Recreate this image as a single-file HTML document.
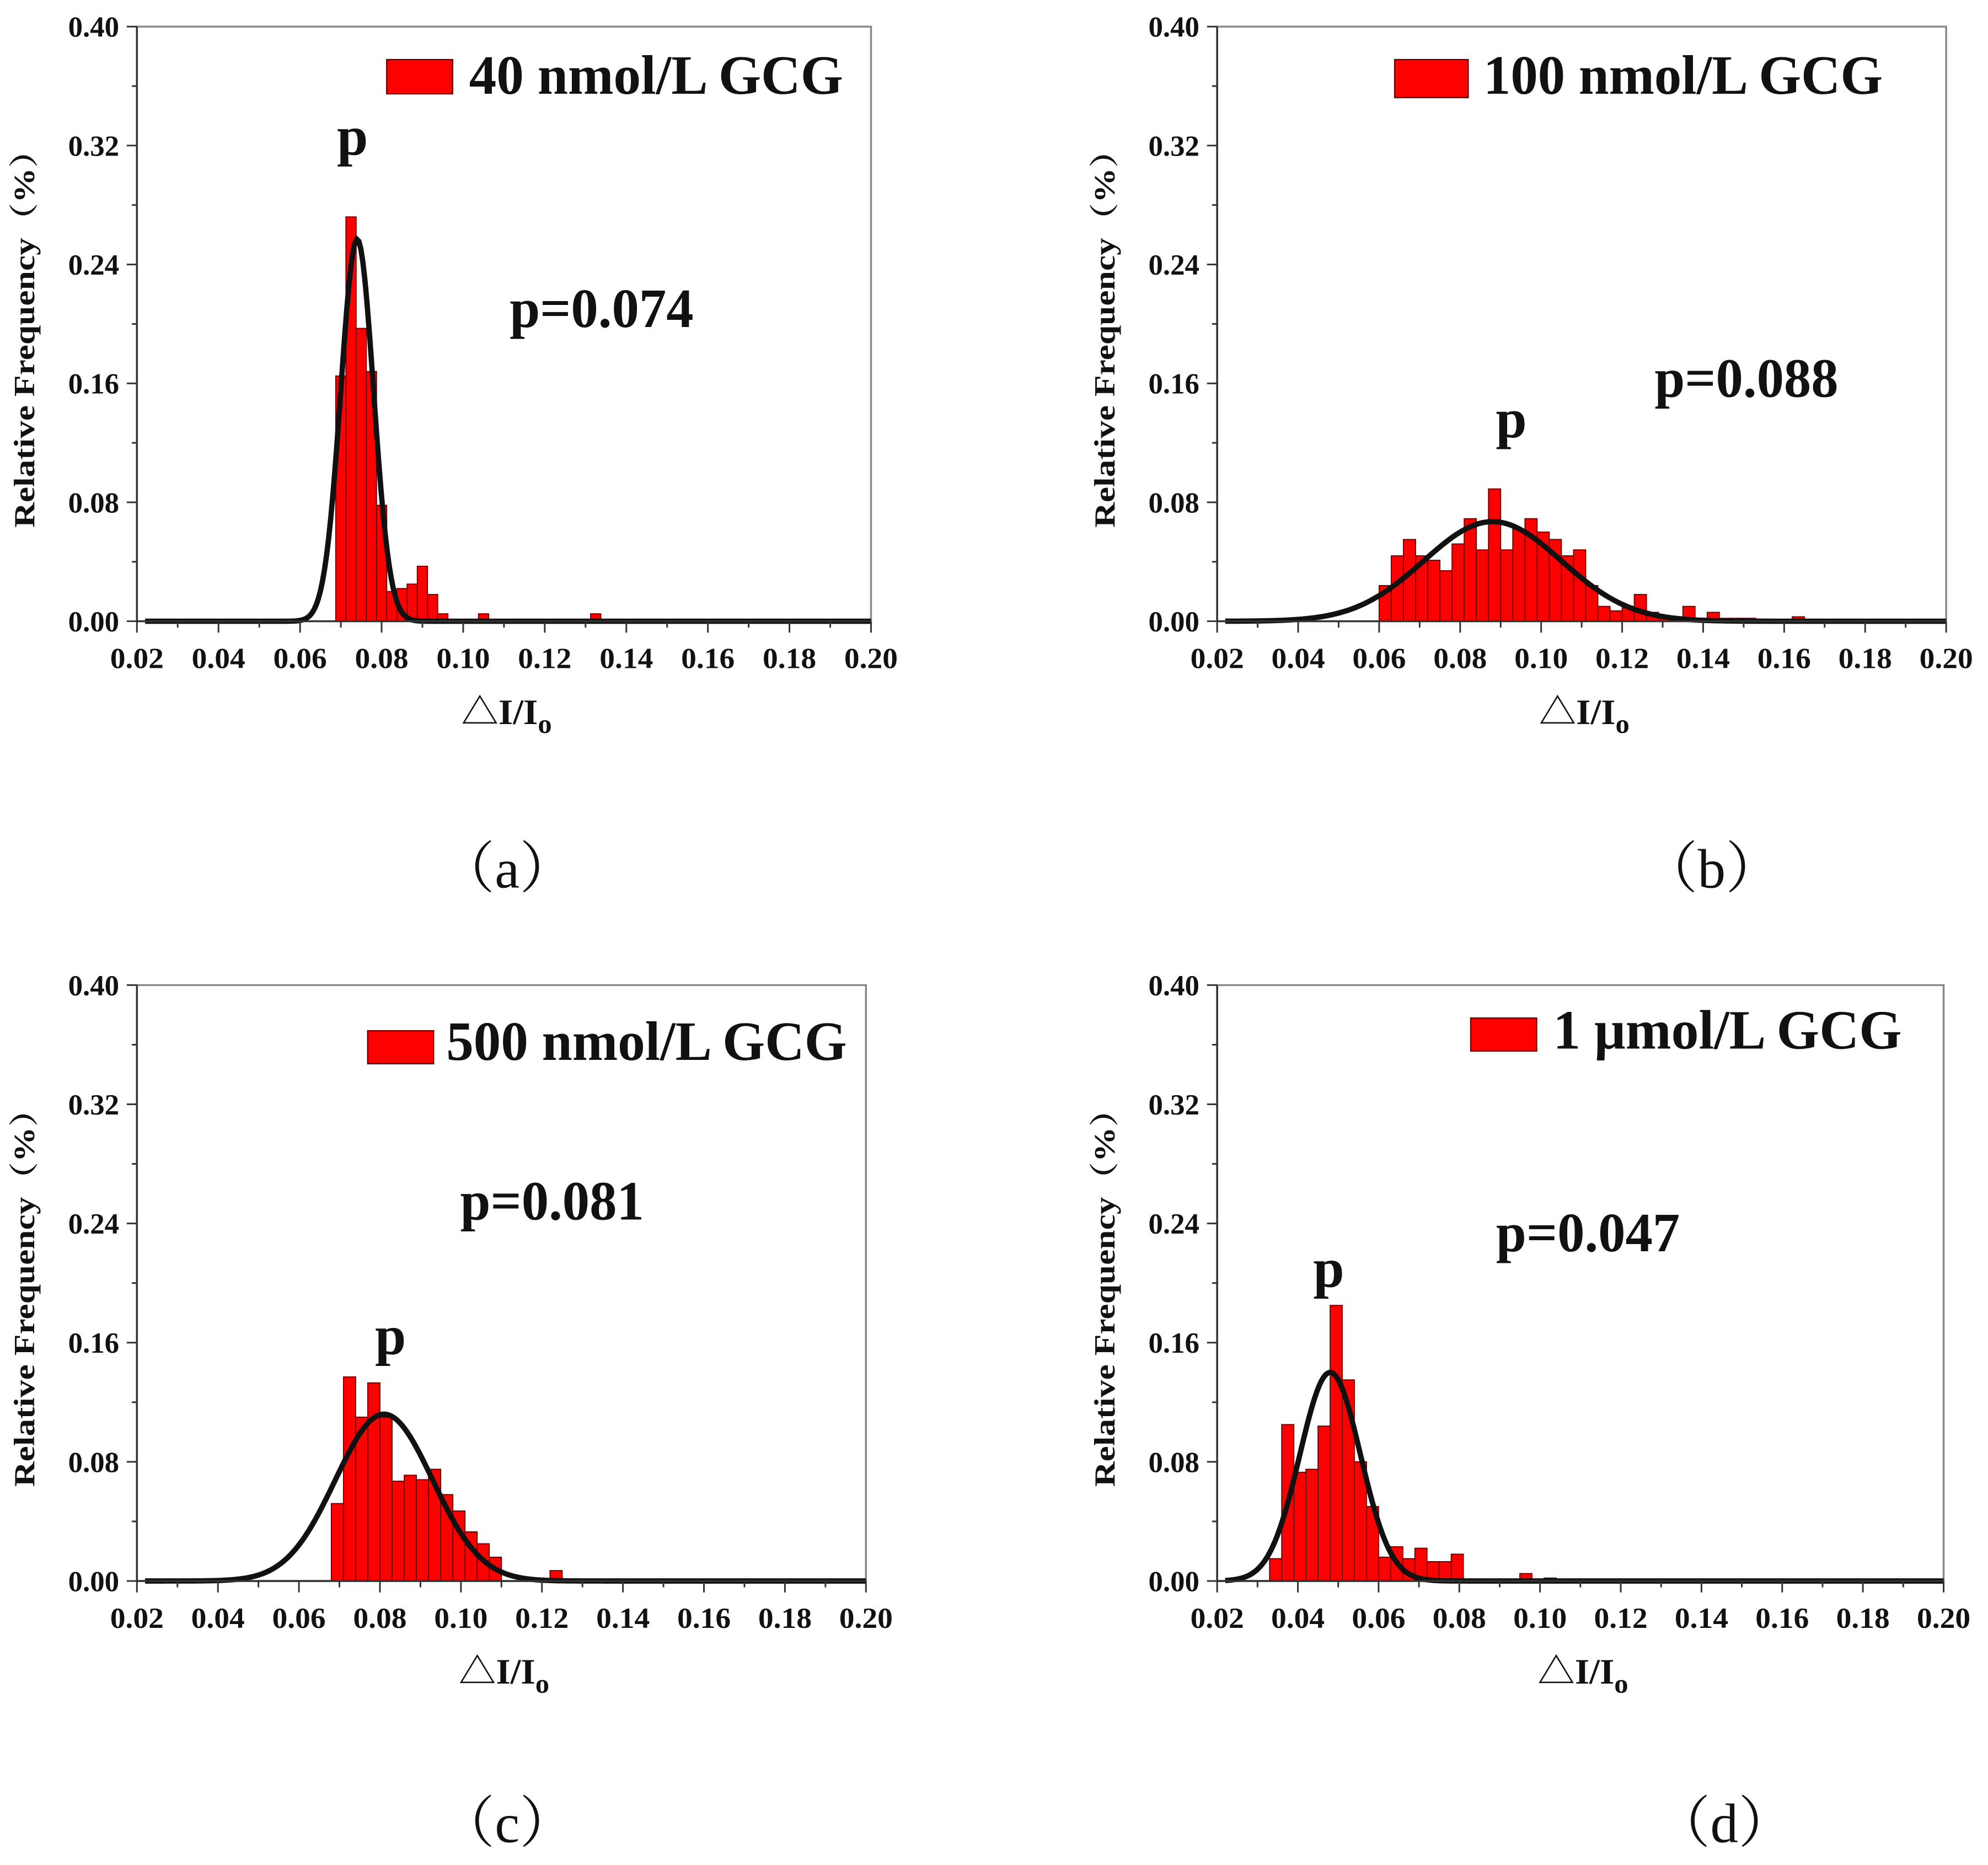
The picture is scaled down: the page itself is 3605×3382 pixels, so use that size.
<!DOCTYPE html>
<html><head><meta charset="utf-8"><style>
html,body{margin:0;padding:0;background:#fff}
svg{display:block}
text{font-family:"Liberation Serif","Noto Serif CJK SC",serif}
</style></head><body>
<svg id="fig" width="3605" height="3382" viewBox="0 0 1568 1471" preserveAspectRatio="none" xmlns="http://www.w3.org/2000/svg"></svg>
<script>
// Panel (a)
const aCenters=[0.070,0.0725,0.075,0.0775,0.080,0.0825,0.085,0.0875,0.090,0.0925,0.095,0.105,0.1325];
const aValues=[0.165,0.272,0.197,0.168,0.078,0.020,0.022,0.025,0.037,0.018,0.005,0.005,0.005];
const aFit=[0.074,0.0040,0.257];
// Panel (b)
const bCenters=[0.0615,0.0645,0.0675,0.0705,0.0735,0.0765,0.0795,0.0825,0.0855,0.0885,0.0915,0.0945,0.0975,0.1005,0.1035,0.1065,0.1095,0.1125,0.1155,0.1185,0.1215,0.1245,0.1275,0.1305,0.1335,0.1365,0.1395,0.1425,0.1455,0.1485,0.1515,0.1635];
const bValues=[0.024,0.044,0.055,0.044,0.041,0.034,0.052,0.069,0.048,0.089,0.048,0.062,0.069,0.060,0.055,0.044,0.048,0.024,0.010,0.007,0.010,0.018,0.006,0.003,0.002,0.010,0.002,0.006,0.002,0.002,0.002,0.003];
const bFit=[0.088,0.017,0.067];
// Panel (c)
const cCenters=[0.0695,0.0725,0.0755,0.0785,0.0815,0.0845,0.0875,0.0905,0.0935,0.0965,0.0995,0.1025,0.1055,0.1085,0.1235];
const cValues=[0.052,0.137,0.110,0.133,0.110,0.067,0.071,0.068,0.075,0.058,0.047,0.033,0.025,0.016,0.007];
const cFit=[0.081,0.012,0.112];
// Panel (d)
const dCenters=[0.0345,0.0375,0.0405,0.0435,0.0465,0.0495,0.0525,0.0555,0.0585,0.0615,0.0645,0.0675,0.0705,0.0735,0.0765,0.0795,0.0965,0.1025];
const dValues=[0.015,0.105,0.073,0.075,0.104,0.185,0.135,0.080,0.050,0.016,0.023,0.015,0.022,0.013,0.013,0.018,0.005,0.002];
const dFit=[0.048,0.0075,0.140];
const xTicks=["0.02","0.04","0.06","0.08","0.10","0.12","0.14","0.16","0.18","0.20"];
const yTicks=["0.00","0.08","0.16","0.24","0.32","0.40"];

const NS="http://www.w3.org/2000/svg";
const svg=document.getElementById('fig');
function mk(tag,attrs,parent,txt){const e=document.createElementNS(NS,tag);for(const k in attrs)e.setAttribute(k,attrs[k]);if(txt!==undefined)e.textContent=txt;(parent||svg).appendChild(e);return e;}
function st(x,y,sx,attrs,parent,txt){attrs.x=0;attrs.y=0;attrs.transform=`translate(${x},${y}) scale(${sx},1)`;return mk('text',attrs,parent,txt);}

const panels=[
 {id:'a',x0:108,x1:687,yt:21,yb:490,c:aCenters,v:aValues,f:aFit,leg:[305,47,52,27],legText:'40 nmol/L GCG',lt:[370,74],lw:295,pl:[278,122],pv:[402,258],pvText:'p=0.074',lab:[400,700],labT:'（a）'},
 {id:'b',x0:960,x1:1535,yt:21,yb:490,c:bCenters,v:bValues,f:bFit,leg:[1100,47,58,30],legText:'100 nmol/L GCG',lt:[1170,74],lw:315,pl:[1192,345],pv:[1305,313],pvText:'p=0.088',lab:[1350,700],labT:'（b）'},
 {id:'c',x0:108,x1:683,yt:777,yb:1247,c:cCenters,v:cValues,f:cFit,leg:[290,813,52,26],legText:'500 nmol/L GCG',lt:[352,836],lw:316,pl:[308,1068],pv:[363,962],pvText:'p=0.081',lab:[400,1453],labT:'（c）'},
 {id:'d',x0:960,x1:1533,yt:777,yb:1247,c:dCenters,v:dValues,f:dFit,leg:[1160,803,52,26],legText:'1 μmol/L GCG',lt:[1225,827],lw:275,pl:[1048,1015],pv:[1180,987],pvText:'p=0.047',lab:[1360,1453],labT:'（d）'}
];

panels.forEach(p=>{
 const g=mk('g',{});
 
 
 const X=v=>p.x0+(v-0.02)/(0.18)*(p.x1-p.x0);
 const Y=v=>p.yb-v/0.40*(p.yb-p.yt);
 const fr=mk('rect',{x:p.x0,y:p.yt,width:p.x1-p.x0,height:p.yb-p.yt,fill:'none',stroke:'#888','stroke-width':1.5},g);
 
 
 const bw=(p.id==='a')?0.0025:0.003;
 p.c.forEach((c,i)=>{
  const r=mk('rect',{x:X(c-bw/2),y:Y(p.v[i]),width:X(c+bw/2)-X(c-bw/2),height:p.yb-Y(p.v[i]),fill:'#f00',stroke:'#600','stroke-width':0.8},g);
  
  
 });
 let d='';
 for(let k=0;k<=360;k++){const xv=0.022+k*(0.178/360);const yv=p.f[2]*Math.exp(-0.5*Math.pow((xv-p.f[0])/p.f[1],2));d+=(k?'L':'M')+X(xv).toFixed(2)+' '+Y(yv).toFixed(2);}
 const path=mk('path',{d:d,fill:'none',stroke:'#111','stroke-width':4.2},g);
 
 
 mk('line',{x1:p.x0,y1:p.yb,x2:p.x1,y2:p.yb,stroke:'#333','stroke-width':1.5},g);
 mk('line',{x1:p.x0,y1:p.yt,x2:p.x0,y2:p.yb,stroke:'#333','stroke-width':1.5},g);
 for(let k=0;k<=18;k++){const xv=0.02+k*0.01;const len=k%2?5:9;mk('line',{x1:X(xv),y1:p.yb,x2:X(xv),y2:p.yb+len,stroke:'#333','stroke-width':1.3},g);}
 for(let k=0;k<=10;k++){const yv=k*0.04;const len=k%2?4:8;mk('line',{x1:p.x0,y1:Y(yv),x2:p.x0-len,y2:Y(yv),stroke:'#333','stroke-width':1.3},g);}
 xTicks.forEach((t,i)=>{const e=st(X(0.02+i*0.02),p.yb+37,1.05,{'text-anchor':'middle','font-size':23,'font-weight':'bold',fill:'#111'},g,t);
  });
 yTicks.forEach((t,i)=>{const e=st(p.x0-14,Y(i*0.08)+8,1.0,{'text-anchor':'end','font-size':23,'font-weight':'bold',fill:'#111'},g,t);
  });
 const xm=(p.x0+p.x1)/2+2;
 const xt=st(xm,p.yb+81,1.05,{'text-anchor':'middle','font-size':28,'font-weight':'bold',fill:'#111'},g);
 
 mk('tspan',{},xt,'△I/I');mk('tspan',{dy:7,'font-size':21},xt,'o');
 const ym=(p.yt+p.yb)/2+5;
 const yl=mk('text',{x:0,y:0,transform:`translate(${p.x0-81},${ym}) rotate(-90) scale(1.2,1)`,'text-anchor':'middle','font-size':23,'font-weight':'bold',fill:'#111'},g,'Relative Frequency（%）');
 
 const lr=mk('rect',{x:p.leg[0],y:p.leg[1],width:p.leg[2],height:p.leg[3],fill:'#f00',stroke:'#600','stroke-width':1},g);
 
 const lt=mk('text',{x:p.lt[0],y:p.lt[1],'font-size':44,'font-weight':'bold',fill:'#111',textLength:p.lw,lengthAdjust:'spacingAndGlyphs'},g,p.legText);
 
 const pl=st(p.pl[0],p.pl[1],1.0,{'text-anchor':'middle','font-size':44,'font-weight':'bold',fill:'#111'},g,'p');
 
 const pv=mk('text',{x:p.pv[0],y:p.pv[1],'font-size':44,'font-weight':'bold',fill:'#111',textLength:145,lengthAdjust:'spacingAndGlyphs'},g,p.pvText);
 
 const lb=st(p.lab[0],p.lab[1],1.0,{'text-anchor':'middle','font-size':44,fill:'#111'},g,p.labT);
 
});
</script>
</body></html>
